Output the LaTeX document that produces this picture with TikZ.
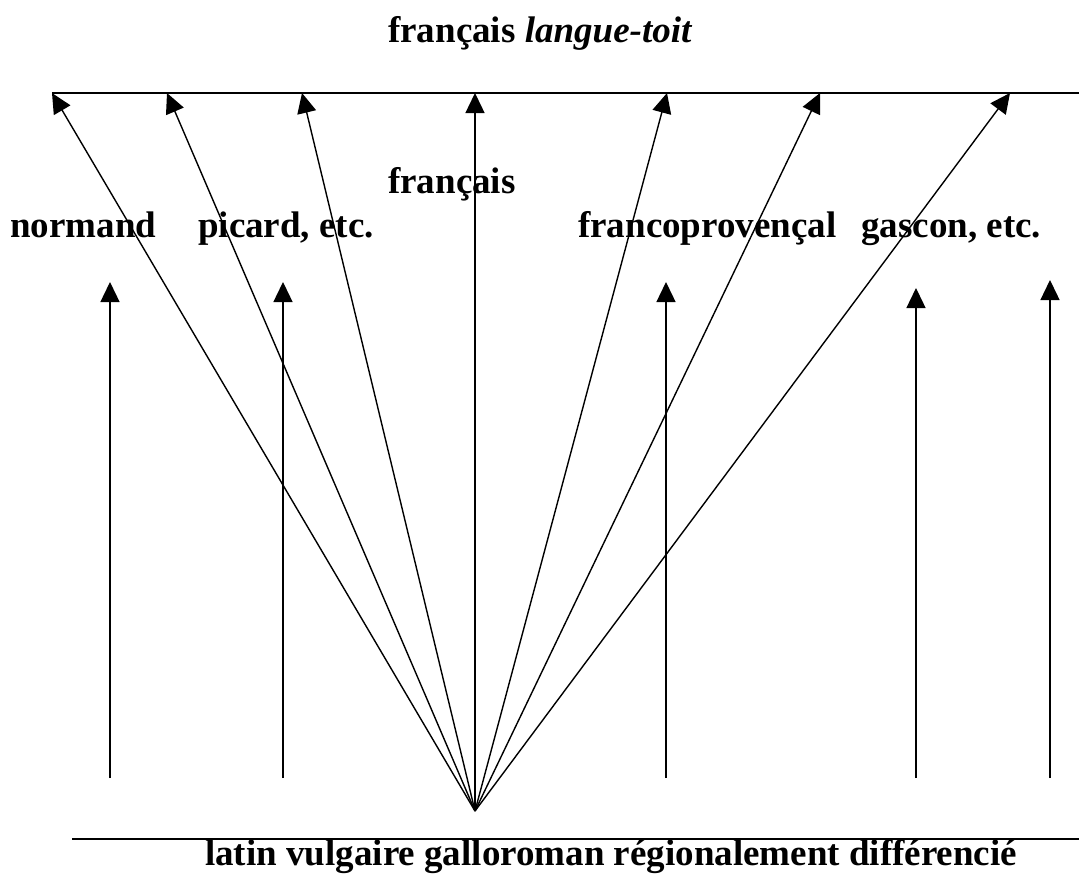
\documentclass[tikz,border=0pt]{standalone}
\usepackage{fontspec}
\setmainfont{Liberation Serif}
\usetikzlibrary{arrows.meta}
\begin{document}
\begin{tikzpicture}[x=1pt,y=-1pt,
  arr/.style={line width=1.4pt,-{Triangle[length=20pt,width=19pt]}},
  rule/.style={line width=2pt},
  lab/.style={font=\fontsize{37}{40}\selectfont\bfseries,anchor=base west,inner sep=0pt}]
\useasboundingbox (0,0) rectangle (1079,879);
\node[lab] (title) at (388,42) {français \textit{langue-toit}};
\coordinate (tl) at (52,93);
\coordinate (tr) at (1079,93);
\draw[rule] (tl) -- (tr);
\coordinate (bl) at (72,839);
\coordinate (br) at (1079,839);
\draw[rule] (bl) -- (br);
\node[lab] (latin) at (205,865) {latin vulgaire galloroman régionalement différencié};
\node[lab] (fr) at (388,193) {français};
\node[lab] (norm) at (10,237) {normand};
\node[lab] (pic) at (198,237) {picard, etc.};
\node[lab] (fp) at (578,237) {francoprovençal};
\node[lab] (gas) at (861,237) {gascon, etc.};
\coordinate (apex) at (475,811);
\foreach \x [count=\i] in {52,167,302,475,667,820,1010} {
  \coordinate (t\i) at (\x,93);
  \draw[arr] (apex) -- (t\i);
}
\foreach \x/\yt [count=\i] in {110/282,283/282,666/282,916/288,1050/280} {
  \coordinate (vb\i) at (\x,778);
  \coordinate (vt\i) at (\x,\yt);
  \draw[arr] (vb\i) -- (vt\i);
}
\end{tikzpicture}
\end{document}
